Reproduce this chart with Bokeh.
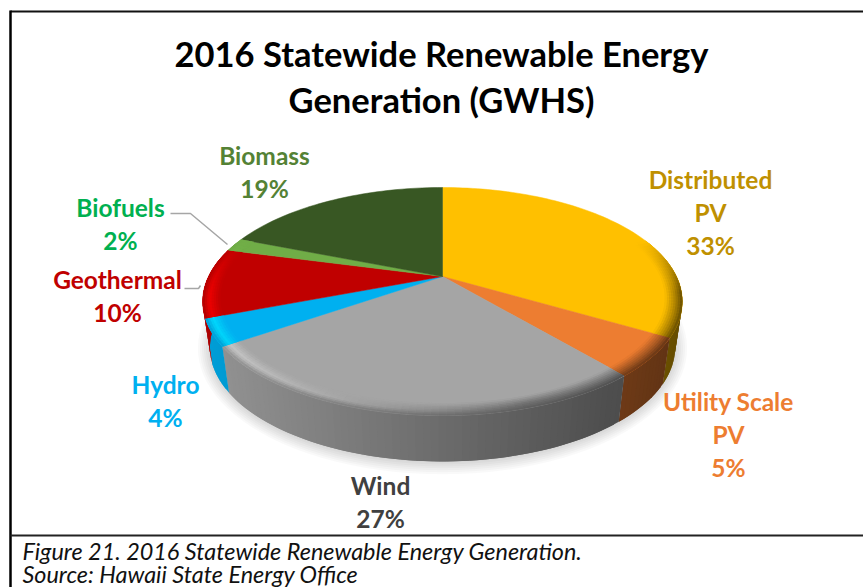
import math
from bokeh.plotting import figure
from bokeh.models import Range1d, ColumnDataSource
from bokeh.core.properties import value
from bokeh.embed import file_html
from bokeh.resources import INLINE

# --- data ---
categories = ["Distributed PV", "Utility Scale PV", "Wind", "Hydro", "Geothermal", "Biofuels", "Biomass"]
shares = [33.4, 5.4, 26.6, 3.8, 9.9, 1.9, 19.0]
title_lines = ["2016 Statewide Renewable Energy", "Generation (GWHS)"]
caption_lines = ["Figure 21. 2016 Statewide Renewable Energy Generation.", "Source: Hawaii State Energy Office"]
label_names = [["Distributed", "PV"], ["Utility Scale", "PV"], ["Wind"], ["Hydro"], ["Geothermal"], ["Biofuels"], ["Biomass"]]

# --- styles ---
slice_colors = ["#FFC000", "#ED7D31", "#A5A5A5", "#00B0F0", "#C00000", "#70AD47", "#385723"]
label_colors = ["#BF9000", "#ED7D31", "#404040", "#00B0F0", "#C00000", "#00B050", "#548235"]
label_pos = [(710, 178.5), (728, 400.5), (380, 485), (165, 383.5), (117, 278.5), (120, 206.5), (264, 154.5)]
LINE_H = 33
FONT = "Lato"

# --- projection of the tilted disc (perspective) ---
CX, CY, RX, SY, K = 442, 276, 234, 108.5, 0.219
DROP, SHRINK = 46, 0.97
STEP = math.radians(1.5)


def proj(a, t=1.0):
    u, v = math.sin(a) * t, math.cos(a) * t
    d = 1 + K * v
    return CX + RX * u / d, CY - SY * v / d


def low(x, y):
    return CX + (x - CX) * SHRINK, y + DROP


def rgb(h):
    return tuple(int(h[i:i + 2], 16) for i in (1, 3, 5))


def hexc(c):
    return "#%02x%02x%02x" % tuple(max(0, min(255, round(q))) for q in c)


def mix(a, b, f):
    return tuple(p + (q - p) * f for p, q in zip(a, b))


def wall_col(base, x):
    s = max(0, min(1, (x - 200) / 484))
    f = 0.9 + (0.40 - 0.9) * s
    return tuple(c * f for c in base)


def hl_col(base, x):
    s = max(0, min(1, (x - 200) / 484))
    light = tuple(min(255, c * 1.24) for c in base)
    dark = tuple(c * 0.68 for c in base)
    return mix(light, dark, min(1, s * 1.5))


# soft shadow
sxs, sys_ = [], []
for i in range(7):
    g = 2.0 * i
    pts = [low(*proj(2 * math.pi * j / 120)) for j in range(120)]
    sxs.append([CX + (x - CX) * (1 + g / 232) for x, y in pts])
    sys_.append([CY + 72 + (y - CY - 72) * (1 + g / 114) + 1 for x, y in pts])

# slices
total = sum(shares)
edges = [0]
for s in shares:
    edges.append(edges[-1] + s / total * 2 * math.pi)

RINGS = [0.93 + 0.07 * i / 8 for i in range(9)]

wx, wy, wc = [], [], []   # side wall strips
fx, fy, fc = [], [], []   # top face wedges
rx, ry, rc = [], [], []   # bevel strips
for i, (a0, a1) in enumerate(zip(edges[:-1], edges[1:])):
    base = rgb(slice_colors[i])
    n = max(2, int((a1 - a0) / STEP))
    da = (a1 - a0) / n
    pts = [proj(a0 + da * j) for j in range(n + 1)]
    fx.append([CX] + [q[0] for q in pts])
    fy.append([CY] + [q[1] for q in pts])
    fc.append(slice_colors[i])
    for j in range(n):
        b0 = a0 + da * j
        b1 = b0 + da
        # each strip runs under the next one so that no seam shows
        bx = b1 + (da if j < n - 1 else 0)
        bm = (b0 + b1) / 2
        if math.cos(bm) > 0.35:
            continue
        p0, p1 = proj(b0), proj(bx)
        q0, q1 = low(*p0), low(*p1)
        wx.append([p0[0], p1[0], q1[0], q0[0]])
        wy.append([p0[1], p1[1], q1[1], q0[1]])
        wc.append(hexc(wall_col(base, (proj(b0)[0] + proj(b1)[0]) / 2)))
        w = max(0, min(1, (0.35 - math.cos(bm)) / 0.5))
        if w <= 0:
            continue
        for r in range(len(RINGS) - 1):
            t0, t1 = RINGS[r], RINGS[min(r + 2, len(RINGS) - 1)]
            rt = (r + 0.5) / (len(RINGS) - 1)
            pa, pb, pc, pd = proj(b0, t0), proj(bx, t0), proj(bx, t1), proj(b0, t1)
            xm = (pc[0] + pd[0]) / 2
            hl, wl = hl_col(base, xm), wall_col(base, xm)
            c = mix(base, hl, rt / 0.6) if rt < 0.6 else mix(hl, wl, (rt - 0.6) / 0.4)
            c = mix(base, c, w)
            rx.append([pa[0], pb[0], pc[0], pd[0]])
            ry.append([pa[1], pb[1], pc[1], pd[1]])
            rc.append(hexc(c))

p = figure(width=863, height=587, x_range=Range1d(0, 863), y_range=Range1d(587, 0),
           output_backend="svg", toolbar_location=None, min_border=0)
p.axis.visible = False
p.grid.visible = False
p.outline_line_color = None
p.background_fill_color = "white"
p.border_fill_color = "white"

p.patches(sxs, sys_, fill_color="#000000", fill_alpha=0.022, line_color=None)
p.patches("xs", "ys", source=ColumnDataSource(dict(xs=wx, ys=wy, c=wc)), fill_color="c", line_color=None)
p.patches("xs", "ys", source=ColumnDataSource(dict(xs=fx, ys=fy, c=fc)), fill_color="c", line_color="c", line_width=0.5)
p.patches("xs", "ys", source=ColumnDataSource(dict(xs=rx, ys=ry, c=rc)), fill_color="c", line_color=None)

# leader lines
p.line([170, 190, 227], [213, 213, 244], line_color="#A6A6A6", line_width=1.5)
p.line([184, 198, 200], [288, 288, 285], line_color="#A6A6A6", line_width=1.5)

# frame
p.line([10, 863], [11, 11], line_color="#111111", line_width=2.2)
p.line([10, 10], [10, 587], line_color="#000000", line_width=2.5)
p.line([10, 863], [535, 535], line_color="#222222", line_width=2)


def txt(x, y, s, size, color, style="bold", align="center"):
    p.text([x], [y], text=[s], text_font=value(FONT), text_font_size=size, text_color=color,
           text_font_style=style, text_align=align, text_baseline="middle")


for i, s in enumerate(title_lines):
    txt(441, 53 + 46 * i, s, "34.5px", "#000000")
for i, s in enumerate(caption_lines):
    txt(22, 550 + 23 * i, s, "23.4px", "#111111", style="italic", align="left")
for i, names in enumerate(label_names):
    x, y = label_pos[i]
    for j, s in enumerate(names + ["%d%%" % round(shares[i])]):
        txt(x, y + LINE_H * j, s, "24.5px", label_colors[i])

open("out.html", "w").write(file_html(p, INLINE))
